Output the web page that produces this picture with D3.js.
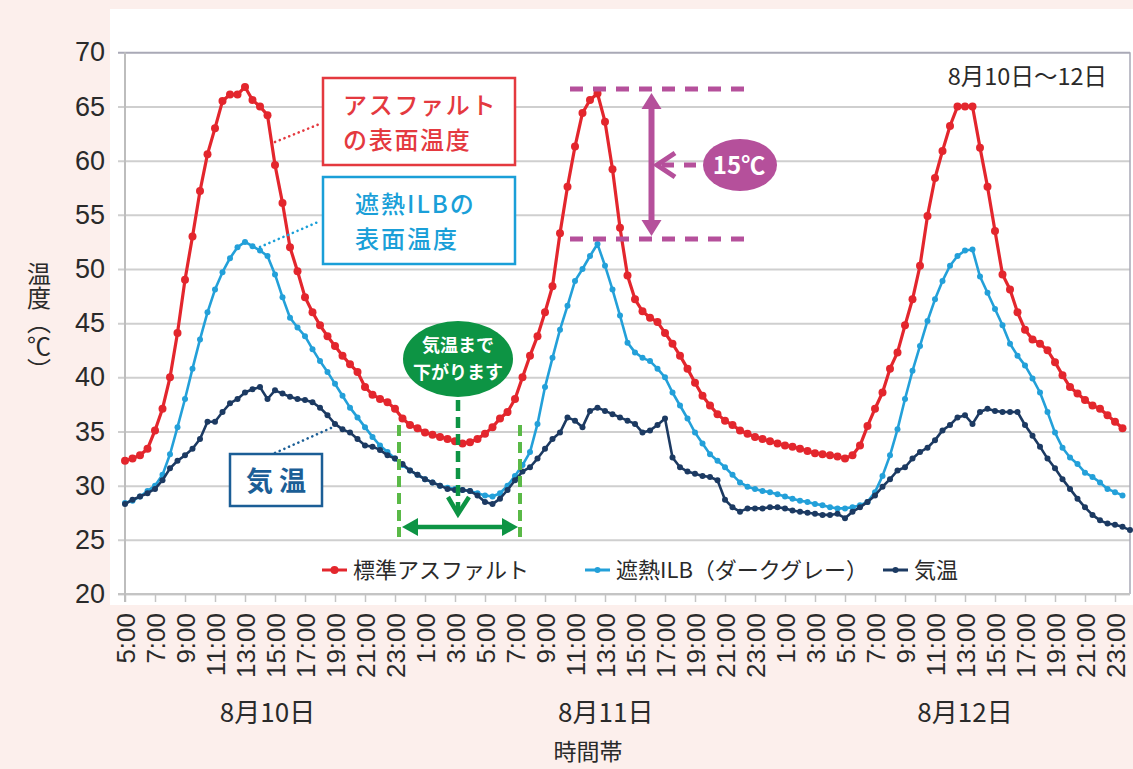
<!DOCTYPE html>
<html><head><meta charset="utf-8">
<script src="https://cdn.jsdelivr.net/npm/d3@7"></script>
<style>
html,body{margin:0;padding:0;background:#fcefec;}
svg{display:block;}
</style></head><body>
<svg id="chart" width="1133" height="769"></svg>
<script>
// ---- data (half-hourly samples, starting 8/10 5:00) ----
const asphalt = [32.3,32.5,32.8,33.4,35.1,37.1,40.0,44.1,49.0,53.0,57.2,60.6,63.0,65.5,66.1,66.1,66.8,65.6,65.0,64.2,59.6,56.1,52.0,49.8,47.4,46.0,44.8,43.8,42.9,42.0,41.2,40.5,39.1,38.4,38.0,37.7,37.1,36.2,35.6,35.3,34.9,34.7,34.5,34.3,34.1,33.9,
34.0,34.3,34.8,35.4,36.2,36.8,38.0,40.0,42.0,43.8,46.0,48.4,53.3,57.6,61.3,64.4,65.6,66.2,63.6,59.2,53.8,49.4,47.2,46.1,45.5,45.1,44.1,43.1,42.0,40.8,39.5,38.3,37.4,36.6,36.0,35.6,35.1,34.8,34.5,34.3,34.1,33.9,33.7,33.6,
33.4,33.2,33.0,32.9,32.8,32.7,32.5,32.8,33.7,35.5,37.1,38.6,40.8,42.3,44.8,47.2,50.3,54.9,58.4,60.9,63.2,65.0,65.0,65.0,61.2,57.6,53.5,49.5,48.1,46.0,44.4,43.5,43.1,42.5,41.4,40.2,39.1,38.5,37.9,37.4,37.1,36.5,35.9,35.3];
const ilb = [28.4,28.6,29.0,29.5,30.0,31.0,32.9,35.4,38.0,40.8,43.5,46.0,48.1,49.7,51.0,52.0,52.5,52.1,51.7,51.2,49.5,47.4,45.5,44.6,43.8,42.6,41.5,40.5,39.4,38.3,37.2,36.3,35.4,34.5,33.7,33.1,32.5,31.9,31.4,31.0,30.6,30.3,30.0,29.8,29.7,29.6,
29.5,29.3,29.1,29.0,29.3,30.0,30.9,31.9,33.1,35.7,39.1,41.8,44.4,46.6,48.9,50.0,51.2,52.3,50.3,48.1,45.7,43.2,42.3,41.8,41.5,40.8,40.0,38.6,37.4,36.2,34.9,33.9,32.9,32.3,31.7,31.0,30.3,29.9,29.7,29.5,29.4,29.2,29.0,28.8,
28.6,28.5,28.3,28.2,28.0,27.9,27.9,28.0,28.2,28.5,29.4,30.9,32.8,35.2,38.0,40.6,42.9,45.2,47.2,48.9,50.3,51.2,51.7,51.8,49.3,47.8,46.3,44.8,43.1,42.0,41.1,39.9,38.6,36.8,34.9,33.5,32.6,32.0,31.2,30.8,30.3,29.7,29.4,29.1];
const airTemp = [28.3,28.7,29.0,29.3,29.7,30.5,31.6,32.3,32.8,33.4,34.3,35.9,35.9,36.8,37.6,38.0,38.6,38.9,39.1,38.0,38.8,38.5,38.2,38.0,37.9,37.7,37.2,36.5,35.7,35.2,34.9,34.3,33.7,33.6,33.3,32.8,32.5,32.0,31.4,31.0,30.6,30.3,30.0,29.7,29.6,29.6,
29.5,29.1,28.5,28.3,28.8,29.6,30.5,31.3,31.7,32.5,33.4,34.3,34.9,36.3,36.0,35.4,36.9,37.2,36.9,36.6,36.3,36.0,35.7,34.9,35.1,35.6,36.2,32.6,31.7,31.3,31.1,30.9,30.8,30.5,28.7,28.0,27.6,27.9,27.9,27.9,28.0,28.0,27.9,27.7,
27.6,27.5,27.4,27.3,27.3,27.4,27.0,27.6,28.0,28.5,29.1,29.9,30.6,31.4,31.7,32.5,33.1,33.5,34.2,35.1,35.6,36.3,36.5,35.7,36.8,37.1,36.9,36.8,36.8,36.8,35.6,34.6,33.6,32.5,31.6,30.6,29.7,28.8,28.0,27.3,26.8,26.5,26.4,26.2,25.9];
const stepHours = 0.5;
const seriesNames = ["標準アスファルト", "遮熱ILB（ダークグレー）", "気温"];
const yTicks = [20,25,30,35,40,45,50,55,60,65,70];
const xTickHours = [0,2,4,6,8,10,12,14,16,18,20,22,24,26,28,30,32,34,36,38,40,42,44,46,48,50,52,54,56,58,60,62,64,66];
const xTickLabels = ["5:00","7:00","9:00","11:00","13:00","15:00","17:00","19:00","21:00","23:00","1:00","3:00",
  "5:00","7:00","9:00","11:00","13:00","15:00","17:00","19:00","21:00","23:00","1:00","3:00",
  "5:00","7:00","9:00","11:00","13:00","15:00","17:00","19:00","21:00","23:00"];
const dayLabels = ["8月10日","8月11日","8月12日"];
const dayLabelHours = [9.5, 32.05, 56];

// ---- layout ----
const svg = d3.select("#chart");
const JP = "'Noto Sans CJK JP','Noto Sans',sans-serif";
const LAT = "'Liberation Sans',Arial,sans-serif";
const x = d3.scaleLinear().domain([0, 67]).range([125, 1130]);
const y = d3.scaleLinear().domain([20, 70]).range([594, 52.3]);

svg.append("rect").attr("x",0).attr("y",0).attr("width",1133).attr("height",769).attr("fill","#fcefec");
svg.append("rect").attr("x",110).attr("y",9).attr("width",1023).attr("height",596).attr("fill","#ffffff");

// gridlines
const yAxis = d3.axisLeft(y).tickValues(yTicks).tickSize(-(1130-118)).tickPadding(13).tickFormat(d3.format("d"));
const gy = svg.append("g").attr("transform","translate(118,0)").call(yAxis);
gy.select(".domain").remove();
gy.selectAll(".tick line").attr("stroke","#cfcfcf").attr("stroke-width",2);
gy.selectAll(".tick").filter(d=>d===70).select("line").attr("stroke","#a9a9b6");
gy.selectAll(".tick text").attr("font-family",LAT).attr("font-size",27).attr("fill","#2a2a2a");
// right border
svg.append("line").attr("x1",1130).attr("x2",1130).attr("y1",y(70)).attr("y2",y(20)).attr("stroke","#a9a9b6").attr("stroke-width",1.5);

// x axis
const xAxis = d3.axisBottom(x).tickValues(xTickHours).tickSize(8).tickFormat((d,i)=>xTickLabels[i]);
const gx = svg.append("g").attr("transform",`translate(0,${y(20)})`).call(xAxis);
gx.select(".domain").attr("stroke","#c4c4c4").attr("stroke-width",2).attr("d",`M118,0H1130`);
gx.selectAll(".tick line").attr("stroke","#c4c4c4").attr("stroke-width",1.5);
gx.selectAll(".tick text")
  .attr("font-family",LAT).attr("font-size",26).attr("fill","#2a2a2a")
  .attr("text-anchor","end").attr("transform","rotate(-90)")
  .attr("x",-19).attr("y",0).attr("dy","0.36em");
// left axis line
svg.append("line").attr("x1",125).attr("x2",125).attr("y1",y(70)).attr("y2",y(20)+8).attr("stroke","#bdbdbd").attr("stroke-width",2);

// day labels
svg.append("g").selectAll("text").data(dayLabels).join("text")
  .attr("x",(d,i)=>x(dayLabelHours[i])).attr("y",722)
  .attr("text-anchor","middle").attr("font-family",JP).attr("font-size",26).attr("fill","#2a2a2a")
  .text(d=>d);
svg.append("text").attr("x",588).attr("y",760).attr("text-anchor","middle")
  .attr("font-family",JP).attr("font-size",23).attr("fill","#2a2a2a").text("時間帯");
// y axis title (vertical)
svg.append("text").attr("x",39).attr("y",262)
  .attr("style","writing-mode:vertical-rl;")
  .attr("font-family",JP).attr("font-size",24).attr("fill","#2a2a2a").text("温度（℃）");

// ---- series ----
const colors = ["#e3262d","#23a0d9","#1c3a62"];
const allSeries = [ilb, airTemp, asphalt];
const colorOf = [colors[1], colors[2], colors[0]];
const widthOf = [2.6, 2.6, 3.2];
const rOf = [3, 3, 4];
const line = d3.line().x((d,i)=>x(i*stepHours)).y(d=>y(d));
allSeries.forEach((s,k)=>{
  const g = svg.append("g");
  g.append("path").datum(s).attr("d",line).attr("fill","none")
    .attr("stroke",colorOf[k]).attr("stroke-width",widthOf[k]).attr("stroke-linejoin","round");
  g.selectAll("circle").data(s).join("circle")
    .attr("cx",(d,i)=>x(i*stepHours)).attr("cy",d=>y(d)).attr("r",rOf[k]).attr("fill",colorOf[k]);
});

// ---- legend ----
const legendX = [322, 585, 883];
const lg = svg.append("g");
seriesNames.forEach((n,i)=>{
  lg.append("line").attr("x1",legendX[i]).attr("x2",legendX[i]+25).attr("y1",570).attr("y2",570)
    .attr("stroke",colors[i]).attr("stroke-width",3);
  lg.append("circle").attr("cx",legendX[i]+12.5).attr("cy",570).attr("r",i===0?4:3).attr("fill",colors[i]);
  lg.append("text").attr("x",legendX[i]+31).attr("y",578).attr("font-family",JP).attr("font-size",22)
    .attr("fill","#2a2a2a").text(n);
});
svg.append("text").attr("x",1107).attr("y",85).attr("text-anchor","end").attr("font-family",JP)
  .attr("font-size",23.5).attr("fill","#2a2a2a").text("8月10日〜12日");

// ---- annotations ----
const ann = svg.append("g");
function dotted(x1,y1,x2,y2,c){
  ann.append("line").attr("x1",x1).attr("y1",y1).attr("x2",x2).attr("y2",y2)
    .attr("stroke",c).attr("stroke-width",2.6).attr("stroke-dasharray","0.1,5").attr("stroke-linecap","round");
}
dotted(275,142,322,123,"#e4393f");
dotted(260,247,318,222,"#1a9fd8");
dotted(275,453,331,428,"#1b5e96");
function box(x0,y0,w,h,c,lines,fs,tx,by,lh,weight,anchor,ls){
  ann.append("rect").attr("x",x0).attr("y",y0).attr("width",w).attr("height",h)
    .attr("fill","#ffffff").attr("stroke",c).attr("stroke-width",2.5);
  const t = ann.append("text").attr("x",tx).attr("y",by).attr("font-family",JP)
    .attr("font-size",fs).attr("font-weight",weight).attr("fill",c).attr("text-anchor",anchor||"start");
  if (ls) t.attr("letter-spacing",ls);
  lines.forEach((s,i)=>t.append("tspan").attr("x",tx).attr("dy",i===0?0:lh).text(s));
}
box(323,78,192,87,"#e4393f",["アスファルト","の表面温度"],24,343,114,35,500,"start",1.7);
box(323,177,192,87,"#1a9fd8",["遮熱ILBの","表面温度"],24,355,213,35,500,"start",2);
box(230,454,92,52,"#1b5e96",["気 温"],27,276,491,0,700,"middle");

// green callout
const G1 = "#0d9444", G2 = "#5ab947";
ann.append("ellipse").attr("cx",458).attr("cy",359).attr("rx",55).attr("ry",38).attr("fill",G1);
ann.append("text").attr("x",458).attr("y",352).attr("text-anchor","middle").attr("font-family",JP)
  .attr("font-size",18).attr("font-weight",700).attr("fill","#fff")
  .call(t=>{t.append("tspan").attr("x",458).attr("dy",0).text("気温まで");
            t.append("tspan").attr("x",458).attr("dy",27).text("下がります");});
ann.append("line").attr("x1",458).attr("x2",458).attr("y1",400).attr("y2",512)
  .attr("stroke",G1).attr("stroke-width",4.5).attr("stroke-dasharray","11,6");
ann.append("path").attr("d","M448,497L458,514L469,497").attr("fill","none").attr("stroke",G1).attr("stroke-width",4.5);
[399,520].forEach(xx=>ann.append("line").attr("x1",xx).attr("x2",xx).attr("y1",425).attr("y2",537)
  .attr("stroke",G2).attr("stroke-width",4).attr("stroke-dasharray","11,6"));
ann.append("line").attr("x1",414).attr("x2",506).attr("y1",527).attr("y2",527).attr("stroke",G1).attr("stroke-width",4.5);
ann.append("path").attr("d","M402,527L418,518L418,536Z").attr("fill",G1);
ann.append("path").attr("d","M518,527L502,518L502,536Z").attr("fill",G1);

// magenta callout
const M = "#b5509b";
[89,239].forEach(yy=>ann.append("line").attr("x1",570).attr("x2",753).attr("y1",yy).attr("y2",yy)
  .attr("stroke",M).attr("stroke-width",5).attr("stroke-dasharray","13,10"));
ann.append("line").attr("x1",651.5).attr("x2",651.5).attr("y1",105).attr("y2",224).attr("stroke",M).attr("stroke-width",6);
ann.append("path").attr("d","M651.5,93L641.5,109L661.5,109Z").attr("fill",M);
ann.append("path").attr("d","M651.5,236L641.5,220L661.5,220Z").attr("fill",M);
ann.append("line").attr("x1",660).attr("x2",702).attr("y1",165).attr("y2",165)
  .attr("stroke",M).attr("stroke-width",5).attr("stroke-dasharray","12,10").attr("stroke-dashoffset",-2);
ann.append("path").attr("d","M675,153L657,165L675,177").attr("fill","none").attr("stroke",M).attr("stroke-width",5);
ann.append("ellipse").attr("cx",740).attr("cy",165).attr("rx",37).attr("ry",26).attr("fill",M);
ann.append("text").attr("x",739).attr("y",174).attr("text-anchor","middle").attr("font-family",JP)
  .attr("font-size",24).attr("font-weight",700).attr("fill","#fff").text("15℃");
</script>
</body></html>
